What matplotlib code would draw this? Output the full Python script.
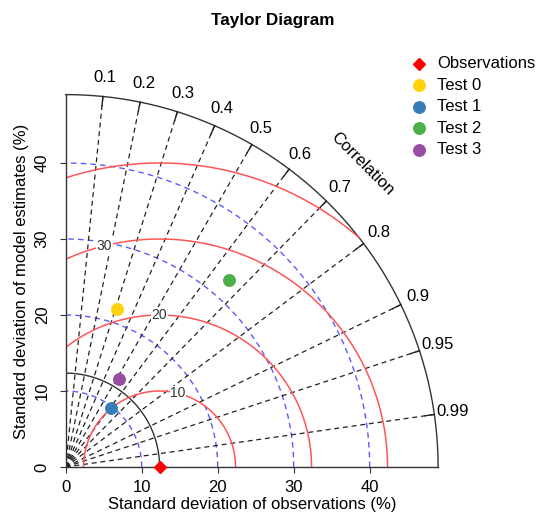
import numpy as np
import matplotlib
matplotlib.use('Agg')
import matplotlib.pyplot as plt

plt.rcParams['font.family'] = ['Liberation Sans', 'DejaVu Sans']

# ---- data ----
models = ['Test 0', 'Test 1', 'Test 2', 'Test 3']
model_sd = [21.9, 9.8, 32.7, 13.55]
model_cor = [0.306, 0.607, 0.658, 0.514]
model_colors = ['#FFD20A', '#377EB8', '#4DAF4A', '#984EA3']
obs_label = 'Observations'
obs_sd = 12.35
max_sd = 49.0
sd_ticks = [0, 10, 20, 30, 40]
sd_circles = [10, 20, 30, 40]
rms_circles = [10, 20, 30, 40]
rms_label_angles = [76, 90, 104, 118]
cor_ticks = [0.1, 0.2, 0.3, 0.4, 0.5, 0.6, 0.7, 0.8, 0.9, 0.95, 0.99]
cor_labels = ['0.1', '0.2', '0.3', '0.4', '0.5', '0.6', '0.7', '0.8', '0.9', '0.95', '0.99']

W, H = 545, 517
FS = 12
fig = plt.figure(figsize=(W / 100, H / 100), dpi=100)
x0, y0 = 65.7, 467.0
scale = 7.6
ax = fig.add_axes([x0 / W, (H - y0) / H, max_sd * scale / W, max_sd * scale / H])
ax.set_xlim(0, max_sd)
ax.set_ylim(0, max_sd)

for s in ['top', 'right']:
    ax.spines[s].set_visible(False)
for s in ['left', 'bottom']:
    ax.spines[s].set_color('#333333')
    ax.spines[s].set_linewidth(1.0)
ax.set_xticks(sd_ticks)
ax.set_yticks(sd_ticks)
ax.tick_params(direction='out', length=4.5, width=0.8, color='#333333', labelsize=FS)
ax.tick_params(axis='x', pad=5)
ax.tick_params(axis='y', pad=7)
for lab in ax.get_yticklabels():
    lab.set_rotation(90)
    lab.set_va('center')

th = np.linspace(0, np.pi / 2, 300)
# outer arc and obs arc
ax.plot(max_sd * np.cos(th), max_sd * np.sin(th), color='#333333', lw=1.0, clip_on=False)
ax.plot(obs_sd * np.cos(th), obs_sd * np.sin(th), color='#333333', lw=1.0)

# sd circles (blue dashed)
for r in sd_circles:
    ax.plot(r * np.cos(th), r * np.sin(th), color='#3D3DFF', lw=1.0, dashes=(4, 3), alpha=0.85)

# correlation lines
for c, lab in zip(cor_ticks, cor_labels):
    a = np.arccos(c)
    ax.plot([0, max_sd * np.cos(a)], [0, max_sd * np.sin(a)], color='#222222', lw=0.9, dashes=(4, 3))
    ax.plot([0.975 * max_sd * np.cos(a), max_sd * np.cos(a)],
            [0.975 * max_sd * np.sin(a), max_sd * np.sin(a)], color='#222222', lw=1.0, clip_on=False)
    rr = 1.05 * max_sd
    ax.text(rr * np.cos(a), rr * np.sin(a), lab, ha='center', va='center', fontsize=FS, clip_on=False)

ax.text(55.8 * np.cos(np.radians(45.7)), 55.8 * np.sin(np.radians(45.7)), 'Correlation',
        rotation=-45, ha='center', va='center', fontsize=FS, rotation_mode='anchor')

# RMS circles (red)
tt = np.linspace(0, np.pi, 600)
for r, la in zip(rms_circles, rms_label_angles):
    xc = obs_sd + r * np.cos(tt)
    yc = r * np.sin(tt)
    ok = (xc >= 0) & (xc ** 2 + yc ** 2 <= max_sd ** 2)
    ax.plot(np.where(ok, xc, np.nan), np.where(ok, yc, np.nan), color='#FF5555', lw=1.1)
    lx = obs_sd + r * np.cos(np.radians(la))
    ly = r * np.sin(np.radians(la))
    if lx > 0:
        ax.text(lx, ly, str(r), ha='center', va='center', fontsize=10, color='#333333',
                bbox=dict(facecolor='white', edgecolor='none', pad=0.5), zorder=3)

# observation
ax.plot([obs_sd], [0], marker='D', color='#FF0000', ms=6.5, ls='none', clip_on=False, zorder=6)

# models
for sd, c, col in zip(model_sd, model_cor, model_colors):
    a = np.arccos(c)
    ax.plot([sd * np.cos(a)], [sd * np.sin(a)], marker='o', color=col, ms=8.3, ls='none',
            zorder=6, clip_on=False)

# labels
fig.text(252 / W, 1 - 505 / H, 'Standard deviation of observations (%)', ha='center', va='center', fontsize=FS)
fig.text(22 / W, 1 - 281 / H, 'Standard deviation of model estimates (%)', ha='center', va='center',
         fontsize=FS, rotation=90)
fig.text(273 / W, 1 - 20 / H, 'Taylor Diagram', ha='center', va='center', fontsize=12.3, fontweight='bold')

# legend
leg_labels = [obs_label] + models
leg_markers = ['D'] + ['o'] * len(models)
leg_colors = ['#FF0000'] + model_colors
leg_sizes = [6.5] + [8.3] * len(models)
for i, (lab, mk, col, ms) in enumerate(zip(leg_labels, leg_markers, leg_colors, leg_sizes)):
    yy = 1 - (64 + 21.4 * i) / H
    fig.lines.append(plt.Line2D([419 / W], [yy], marker=mk, color=col, ms=ms, ls='none',
                                transform=fig.transFigure, figure=fig))
    fig.text(437 / W, yy, lab, ha='left', va='center', fontsize=FS)

fig.savefig('out.png', dpi=100)
